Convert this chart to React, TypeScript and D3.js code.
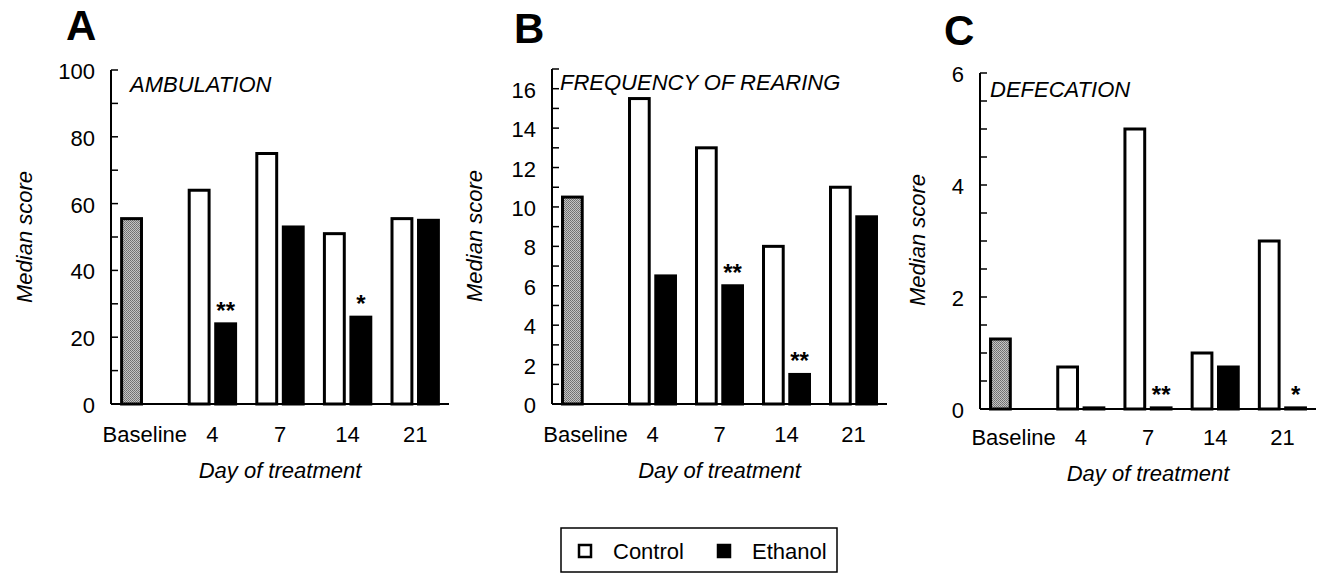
import React, { useEffect, useRef } from "react";
import * as d3 from "d3";

// categories
const groups = ["Baseline", "4", "7", "14", "21"];
const days = ["4", "7", "14", "21"];
const series = ["Control", "Ethanol"];

// A: ambulation
const ambulationBaseline = 55.5;
const ambulationControl = [64, 75, 51, 55.5];
const ambulationEthanol = [24, 53, 26, 55];
const ambulationStars = ["**", "", "*", ""];
const ambulationTicks = [0, 20, 40, 60, 80, 100];

// B: frequency of rearing
const rearingBaseline = 10.5;
const rearingControl = [15.5, 13, 8, 11];
const rearingEthanol = [6.5, 6, 1.5, 9.5];
const rearingStars = ["", "**", "**", ""];
const rearingTicks = [0, 2, 4, 6, 8, 10, 12, 14, 16];

// C: defecation
const defecationBaseline = 1.25;
const defecationControl = [0.75, 5, 1, 3];
const defecationEthanol = [0.02, 0.02, 0.75, 0.02];
const defecationStars = ["", "**", "", "*"];
const defecationTicks = [0, 2, 4, 6];

const FONT = "'Liberation Sans', Arial, sans-serif";

const panels = [
  {
    letter: "A", title: "AMBULATION", base: ambulationBaseline, control: ambulationControl,
    ethanol: ambulationEthanol, stars: ambulationStars, ticks: ambulationTicks, max: 100, minor: 10,
    x0: 111, x1: 449, yBottom: 404, yTop: 70, letterX: 66, letterY: 40, titleX: 130, titleY: 92,
    yLabelX: 32, yLabelY: 237, xLabelY: 442, xTitleY: 478,
  },
  {
    letter: "B", title: "FREQUENCY OF REARING", base: rearingBaseline, control: rearingControl,
    ethanol: rearingEthanol, stars: rearingStars, ticks: rearingTicks, max: 17, minor: 1,
    x0: 552, x1: 887, yBottom: 404, yTop: 69, letterX: 514, letterY: 43, titleX: 560, titleY: 90,
    yLabelX: 482, yLabelY: 236, xLabelY: 442, xTitleY: 478,
  },
  {
    letter: "C", title: "DEFECATION", base: defecationBaseline, control: defecationControl,
    ethanol: defecationEthanol, stars: defecationStars, ticks: defecationTicks, max: 6, minor: 0.5,
    x0: 980, x1: 1316, yBottom: 409, yTop: 73, letterX: 944, letterY: 45, titleX: 990, titleY: 97,
    yLabelX: 925, yLabelY: 240, xLabelY: 445, xTitleY: 481,
  },
];

const App = () => {
  const ref = useRef<SVGSVGElement | null>(null);

  useEffect(() => {
    const svg = d3.select(ref.current);
    svg.selectAll("*").remove();

    // stippled grey for the baseline bar
    const pat = svg
      .append("defs")
      .append("pattern")
      .attr("id", "stipple")
      .attr("width", 2)
      .attr("height", 2)
      .attr("patternUnits", "userSpaceOnUse");
    pat.append("rect").attr("width", 2).attr("height", 2).attr("fill", "#c4c4c4");
    pat.append("rect").attr("width", 1).attr("height", 1).attr("fill", "#6e6e6e");
    pat.append("rect").attr("x", 1).attr("y", 1).attr("width", 1).attr("height", 1).attr("fill", "#7a7a7a");

    panels.forEach((p) => {
      const g = svg.append("g");
      const y = d3.scaleLinear().domain([0, p.max]).range([p.yBottom, p.yTop]);
      const x = d3.scaleBand().domain(groups).range([p.x0, p.x1]).padding(0);
      const inner = d3
        .scaleBand()
        .domain(series)
        .range([0, x.bandwidth()])
        .paddingInner(0.25)
        .paddingOuter(0.4);

      // panel letter and title
      g.append("text")
        .attr("x", p.letterX)
        .attr("y", p.letterY)
        .attr("font-family", FONT)
        .attr("font-weight", "bold")
        .attr("font-size", 42)
        .text(p.letter);
      g.append("text")
        .attr("x", p.titleX)
        .attr("y", p.titleY)
        .attr("font-family", FONT)
        .attr("font-style", "italic")
        .attr("font-size", 22)
        .text(p.title);

      // y axis with inward ticks
      g.append("line")
        .attr("x1", p.x0)
        .attr("x2", p.x0)
        .attr("y1", p.yBottom)
        .attr("y2", p.yTop)
        .attr("stroke", "#000")
        .attr("stroke-width", 2);
      const minorTicks = d3.range(0, p.max + p.minor / 2, p.minor);
      g.selectAll(".tick")
        .data(minorTicks)
        .enter()
        .append("line")
        .attr("x1", p.x0)
        .attr("x2", p.x0 + 7)
        .attr("y1", (d) => y(d))
        .attr("y2", (d) => y(d))
        .attr("stroke", "#000")
        .attr("stroke-width", 1.5);
      g.selectAll(".ylab")
        .data(p.ticks)
        .enter()
        .append("text")
        .attr("x", p.x0 - 16)
        .attr("y", (d) => y(d) + 9)
        .attr("text-anchor", "end")
        .attr("font-family", FONT)
        .attr("font-size", 22)
        .text((d) => String(d));
      g.append("text")
        .attr("transform", `translate(${p.yLabelX},${p.yLabelY}) rotate(-90)`)
        .attr("text-anchor", "middle")
        .attr("font-family", FONT)
        .attr("font-style", "italic")
        .attr("font-size", 22)
        .text("Median score");

      // x axis
      g.append("line")
        .attr("x1", p.x0)
        .attr("x2", p.x1)
        .attr("y1", p.yBottom)
        .attr("y2", p.yBottom)
        .attr("stroke", "#000")
        .attr("stroke-width", 2);
      g.selectAll(".xlab")
        .data(groups)
        .enter()
        .append("text")
        .attr("x", (d) => (x(d) as number) + x.bandwidth() / 2)
        .attr("y", p.xLabelY)
        .attr("text-anchor", "middle")
        .attr("font-family", FONT)
        .attr("font-size", 22)
        .text((d) => d);
      g.append("text")
        .attr("x", (p.x0 + p.x1) / 2)
        .attr("y", p.xTitleY)
        .attr("text-anchor", "middle")
        .attr("font-family", FONT)
        .attr("font-style", "italic")
        .attr("font-size", 22)
        .text("Day of treatment");

      // bars
      const bars = [
        { group: "Baseline", s: "Control", v: p.base, fill: "url(#stipple)", star: "" },
        ...days.map((d, i) => ({ group: d, s: "Control", v: p.control[i], fill: "#fff", star: "" })),
        ...days.map((d, i) => ({ group: d, s: "Ethanol", v: p.ethanol[i], fill: "#000", star: p.stars[i] })),
      ];
      g.selectAll(".bar")
        .data(bars)
        .enter()
        .append("rect")
        .attr("x", (d) => (x(d.group) as number) + (inner(d.s) as number))
        .attr("width", inner.bandwidth())
        .attr("y", (d) => y(d.v))
        .attr("height", (d) => p.yBottom - y(d.v))
        .attr("fill", (d) => d.fill)
        .attr("stroke", "#000")
        .attr("stroke-width", 3);
      g.selectAll(".star")
        .data(bars.filter((d) => d.star))
        .enter()
        .append("text")
        .attr("x", (d) => (x(d.group) as number) + (inner(d.s) as number) + inner.bandwidth() / 2)
        .attr("y", (d) => y(d.v) - 5)
        .attr("text-anchor", "middle")
        .attr("font-family", FONT)
        .attr("font-weight", "bold")
        .attr("font-size", 24)
        .text((d) => d.star);
    });

    // legend
    const lg = svg.append("g");
    lg.append("rect")
      .attr("x", 561)
      .attr("y", 528)
      .attr("width", 276)
      .attr("height", 44)
      .attr("fill", "none")
      .attr("stroke", "#000")
      .attr("stroke-width", 1.5);
    const legendX = d3.scalePoint().domain(series).range([578, 717]);
    series.forEach((s) => {
      const lx = legendX(s) as number;
      lg.append("rect")
        .attr("x", lx + 1)
        .attr("y", 545)
        .attr("width", 12)
        .attr("height", 12)
        .attr("fill", s === "Control" ? "#fff" : "#000")
        .attr("stroke", "#000")
        .attr("stroke-width", 2.5);
      lg.append("text")
        .attr("x", lx + 35)
        .attr("y", 559)
        .attr("font-family", FONT)
        .attr("font-size", 22)
        .text(s);
    });
  }, []);

  return (
    <svg
      ref={ref}
      width="1319"
      height="574"
      style={{ position: "fixed", left: 0, top: 0, background: "#fff" }}
    ></svg>
  );
};

export default App;
